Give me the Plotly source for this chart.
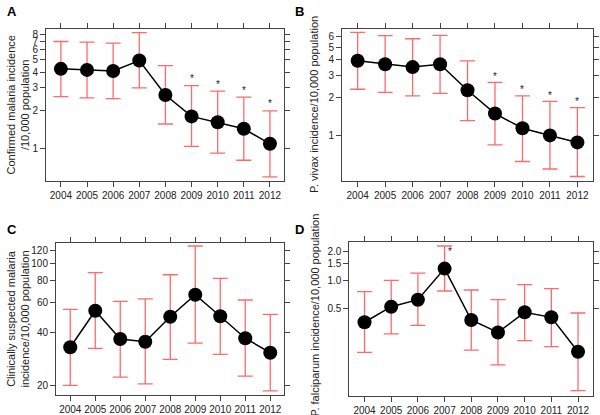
import math
import plotly.graph_objects as go

years = [2004, 2005, 2006, 2007, 2008, 2009, 2010, 2011, 2012]

# Panel A: confirmed malaria incidence /10,000
a_val = [4.24, 4.16, 4.08, 4.93, 2.63, 1.78, 1.60, 1.42, 1.08]
a_hi = [6.98, 6.90, 6.78, 8.22, 4.50, 3.12, 2.82, 2.53, 1.97]
a_lo = [2.55, 2.50, 2.46, 3.00, 1.55, 1.03, 0.91, 0.80, 0.59]
a_star = [False, False, False, False, False, True, True, True, True]

# Panel B: P. vivax incidence /10,000
b_val = [3.90, 3.66, 3.48, 3.66, 2.29, 1.50, 1.15, 1.01, 0.89]
b_hi = [6.53, 6.14, 5.81, 6.18, 3.90, 2.64, 2.07, 1.87, 1.67]
b_lo = [2.33, 2.20, 2.07, 2.16, 1.32, 0.85, 0.63, 0.55, 0.48]
b_star = [False, False, False, False, False, True, True, True, True]

# Panel C: clinically suspected malaria /10,000
c_val = [33.1, 53.7, 36.9, 35.6, 49.6, 66.4, 49.9, 37.3, 30.8]
c_hi = [54.7, 88.9, 60.8, 62.8, 86.5, 126.6, 82.5, 61.9, 51.2]
c_lo = [20.0, 32.6, 22.3, 20.4, 28.2, 35.0, 30.1, 22.6, 18.6]
c_star = [False] * 9

# Panel D: P. falciparum incidence /10,000
d_val = [0.359, 0.525, 0.623, 1.33, 0.379, 0.280, 0.458, 0.405, 0.175]
d_hi = [0.757, 1.00, 1.19, 2.31, 0.789, 0.623, 0.898, 0.815, 0.450]
d_lo = [0.172, 0.27, 0.333, 0.77, 0.182, 0.127, 0.229, 0.198, 0.0675]
d_star = [False, False, False, True, False, False, False, False, False]

a_ticks = [1, 2, 3, 4, 5, 6, 7, 8]
b_ticks = [1, 2, 3, 4, 5, 6]
c_ticks = [20, 40, 60, 80, 100, 120]
d_ticks = [0.5, 1.0, 1.5, 2.0]
d_ticklabels = ["0.5", "1.0", "1.5", "2.0"]

W, H = 600, 415

panels = [
    dict(val=a_val, hi=a_hi, lo=a_lo, star=a_star, ticks=a_ticks, labels=[str(t) for t in a_ticks],
         box=(46, 284.3, 29, 180.5), yr=[-0.2575, 0.943], letter="A",
         title="Confirmed malaria incidence<br>/10,000 population", tx=17.5, ty=105, star_dx=0, star_dy=7),
    dict(val=b_val, hi=b_hi, lo=b_lo, star=b_star, ticks=b_ticks, labels=[str(t) for t in b_ticks],
         box=(342, 592.5, 29, 181), yr=[-0.354, 0.841], letter="B",
         title="P. vivax incidence/10,000 population", tx=314, ty=105, star_dx=0, star_dy=6),
    dict(val=c_val, hi=c_hi, lo=c_lo, star=c_star, ticks=c_ticks, labels=[str(t) for t in c_ticks],
         box=(56, 284, 242.7, 395.3), yr=[1.2435, 2.1215], letter="C",
         title="Clinically suspected malaria<br>incidence/10,000 population", tx=17.5, ty=319, star_dx=0, star_dy=7),
    dict(val=d_val, hi=d_hi, lo=d_lo, star=d_star, ticks=d_ticks, labels=d_ticklabels,
         box=(349.3, 592.7, 242.3, 395.5), yr=[-1.2216, 0.403], letter="D",
         title="P. falciparum incidence/10,000 population", tx=314, ty=315.5, star_dx=5, star_dy=-5),
]

fig = go.Figure()
annotations = []
axcol = "#444444"
font_family = "Liberation Sans, Arial, sans-serif"

for i, p in enumerate(panels, start=1):
    xa = "xaxis" if i == 1 else f"xaxis{i}"
    ya = "yaxis" if i == 1 else f"yaxis{i}"
    xr = "x" if i == 1 else f"x{i}"
    yr_ = "y" if i == 1 else f"y{i}"
    x0, x1, y0, y1 = p["box"]
    up = [h - v for h, v in zip(p["hi"], p["val"])]
    dn = [v - l for v, l in zip(p["val"], p["lo"])]
    fig.add_trace(go.Scatter(
        x=years, y=p["val"], mode="lines+markers", xaxis=xr, yaxis=yr_,
        line=dict(color="black", width=1.5),
        marker=dict(color="black", size=14),
        error_y=dict(type="data", symmetric=False, array=up, arrayminus=dn,
                     color="#ff6a6a", thickness=1.3, width=7.5),
        showlegend=False, cliponaxis=False,
    ))
    fig.layout[xa] = dict(
        domain=[x0 / W, x1 / W], range=[2003.43, 2012.55], anchor=yr_, automargin=False,
        tickvals=years, ticktext=[str(y) for y in years],
        ticks="outside", ticklen=5, tickcolor=axcol, tickwidth=1,
        showline=True, linecolor=axcol, linewidth=1, mirror="ticks",
        showgrid=False, zeroline=False,
        tickfont=dict(size=10, color="#222", family=font_family),
    )
    fig.layout[ya] = dict(
        domain=[1 - y1 / H, 1 - y0 / H], type="log", range=p["yr"], anchor=xr, automargin=False,
        tickvals=p["ticks"], ticktext=p["labels"],
        ticks="outside", ticklen=5, tickcolor=axcol, tickwidth=1,
        showline=True, linecolor=axcol, linewidth=1, mirror="ticks",
        showgrid=False, zeroline=False,
        tickfont=dict(size=10, color="#222", family=font_family),
    )
    # asterisks
    for yr_v, hi, s in zip(years, p["hi"], p["star"]):
        if s:
            annotations.append(dict(
                x=yr_v, y=math.log10(hi), xref=xr, yref=yr_, text="*", showarrow=False,
                xshift=p["star_dx"], yshift=p["star_dy"], yanchor="middle",
                font=dict(size=10, color="#222", family=font_family),
            ))
    # panel letter
    annotations.append(dict(
        x=(12 if p["letter"] in "AC" else 299) / W, y=1 - ((11 if p["letter"] in "AB" else 229) / H),
        xref="paper", yref="paper", text=f"<b>{p['letter']}</b>", showarrow=False,
        xanchor="center", yanchor="middle", font=dict(size=13, color="black", family=font_family),
    ))
    # y title
    annotations.append(dict(
        x=p["tx"] / W, y=1 - p["ty"] / H, xref="paper", yref="paper",
        text=p["title"], showarrow=False, textangle=-90, xanchor="center", yanchor="middle",
        font=dict(size=11, color="#222", family=font_family),
    ))

fig.update_layout(
    width=W, height=H, margin=dict(l=0, r=0, t=0, b=0),
    paper_bgcolor="white", plot_bgcolor="white",
    annotations=annotations,
)

fig.write_html(
    "out.html",
    config={"displayModeBar": False, "staticPlot": True},
    post_script="document.body.style.margin='0';document.body.style.overflow='hidden';",
)
